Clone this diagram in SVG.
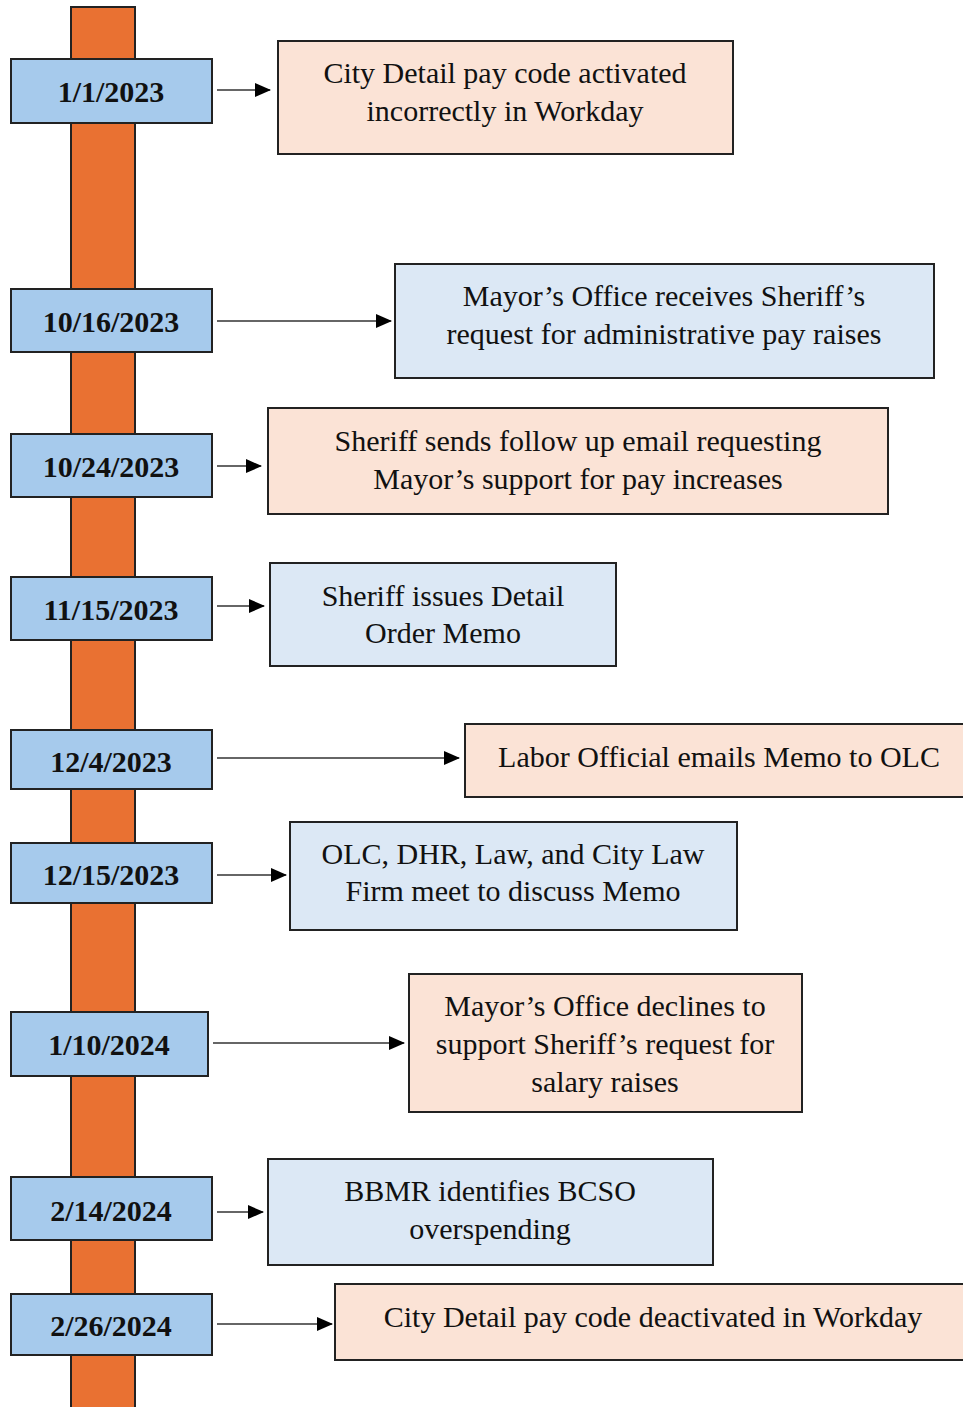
<svg xmlns="http://www.w3.org/2000/svg" width="963" height="1407" viewBox="0 0 963 1407">
<defs>
<marker id="ah" markerWidth="16" markerHeight="14" refX="15" refY="7" orient="auto" markerUnits="userSpaceOnUse"><path d="M0,0 L16,7 L0,14 Z" fill="#000"/></marker>
<style>
.bar{fill:#E97132;stroke:#222;stroke-width:2}
.date{fill:#A6CAEC;stroke:#222;stroke-width:2}
.dt{font-family:"Liberation Serif",serif;font-weight:bold;font-size:30px;fill:#111;text-anchor:middle;dominant-baseline:central}
.peach{fill:#FBE3D6;stroke:#222;stroke-width:2}
.blue{fill:#DCE8F5;stroke:#222;stroke-width:2}
.et{font-family:"Liberation Serif",serif;font-size:30px;fill:#111;text-anchor:middle;dominant-baseline:central}
.conn{stroke:#666;stroke-width:2;fill:none;marker-end:url(#ah)}
</style>
</defs>
<rect id="timeline" class="bar" x="71" y="7" width="64" height="1402"/>
<g id="connectors">
<line class="conn" x1="217" y1="90" x2="270" y2="90"/>
<line class="conn" x1="217" y1="321" x2="391" y2="321"/>
<line class="conn" x1="217" y1="466" x2="261" y2="466"/>
<line class="conn" x1="217" y1="606" x2="264" y2="606"/>
<line class="conn" x1="217" y1="758" x2="459" y2="758"/>
<line class="conn" x1="217" y1="875" x2="286" y2="875"/>
<line class="conn" x1="213" y1="1043" x2="404" y2="1043"/>
<line class="conn" x1="217" y1="1212" x2="263" y2="1212"/>
<line class="conn" x1="217" y1="1324" x2="332" y2="1324"/>
</g>
<g id="d1"><rect class="date" x="11" y="59" width="201" height="64"/><text class="dt" x="111" y="91">1/1/2023</text></g>
<g id="d2"><rect class="date" x="11" y="289" width="201" height="63"/><text class="dt" x="111" y="321">10/16/2023</text></g>
<g id="d3"><rect class="date" x="11" y="434" width="201" height="63"/><text class="dt" x="111" y="466">10/24/2023</text></g>
<g id="d4"><rect class="date" x="11" y="577" width="201" height="63"/><text class="dt" x="111" y="609">11/15/2023</text></g>
<g id="d5"><rect class="date" x="11" y="730" width="201" height="59"/><text class="dt" x="111" y="761">12/4/2023</text></g>
<g id="d6"><rect class="date" x="11" y="843" width="201" height="60"/><text class="dt" x="111" y="874">12/15/2023</text></g>
<g id="d7"><rect class="date" x="11" y="1012" width="197" height="64"/><text class="dt" x="109" y="1044">1/10/2024</text></g>
<g id="d8"><rect class="date" x="11" y="1177" width="201" height="63"/><text class="dt" x="111" y="1210">2/14/2024</text></g>
<g id="d9"><rect class="date" x="11" y="1294" width="201" height="61"/><text class="dt" x="111" y="1325">2/26/2024</text></g>
<g id="e1"><rect class="peach" x="278" y="41" width="455" height="113"/><text class="et" x="505" y="72">City Detail pay code activated</text><text class="et" x="505" y="110">incorrectly in Workday</text></g>
<g id="e2"><rect class="blue" x="395" y="264" width="539" height="114"/><text class="et" x="664" y="295">Mayor’s Office receives Sheriff’s</text><text class="et" x="664" y="333">request for administrative pay raises</text></g>
<g id="e3"><rect class="peach" x="268" y="408" width="620" height="106"/><text class="et" x="578" y="440">Sheriff sends follow up email requesting</text><text class="et" x="578" y="478">Mayor’s support for pay increases</text></g>
<g id="e4"><rect class="blue" x="270" y="563" width="346" height="103"/><text class="et" x="443" y="595">Sheriff issues Detail</text><text class="et" x="443" y="632">Order Memo</text></g>
<g id="e5"><rect class="peach" x="465" y="724" width="510" height="73"/><text class="et" x="719" y="756">Labor Official emails Memo to OLC</text></g>
<g id="e6"><rect class="blue" x="290" y="822" width="447" height="108"/><text class="et" x="513" y="853">OLC, DHR, Law, and City Law</text><text class="et" x="513" y="890">Firm meet to discuss Memo</text></g>
<g id="e7"><rect class="peach" x="409" y="974" width="393" height="138"/><text class="et" x="605" y="1005">Mayor’s Office declines to</text><text class="et" x="605" y="1043">support Sheriff’s request for</text><text class="et" x="605" y="1081">salary raises</text></g>
<g id="e8"><rect class="blue" x="268" y="1159" width="445" height="106"/><text class="et" x="490" y="1190">BBMR identifies BCSO</text><text class="et" x="490" y="1228">overspending</text></g>
<g id="e9"><rect class="peach" x="335" y="1284" width="640" height="76"/><text class="et" x="653" y="1316">City Detail pay code deactivated in Workday</text></g>
</svg>
